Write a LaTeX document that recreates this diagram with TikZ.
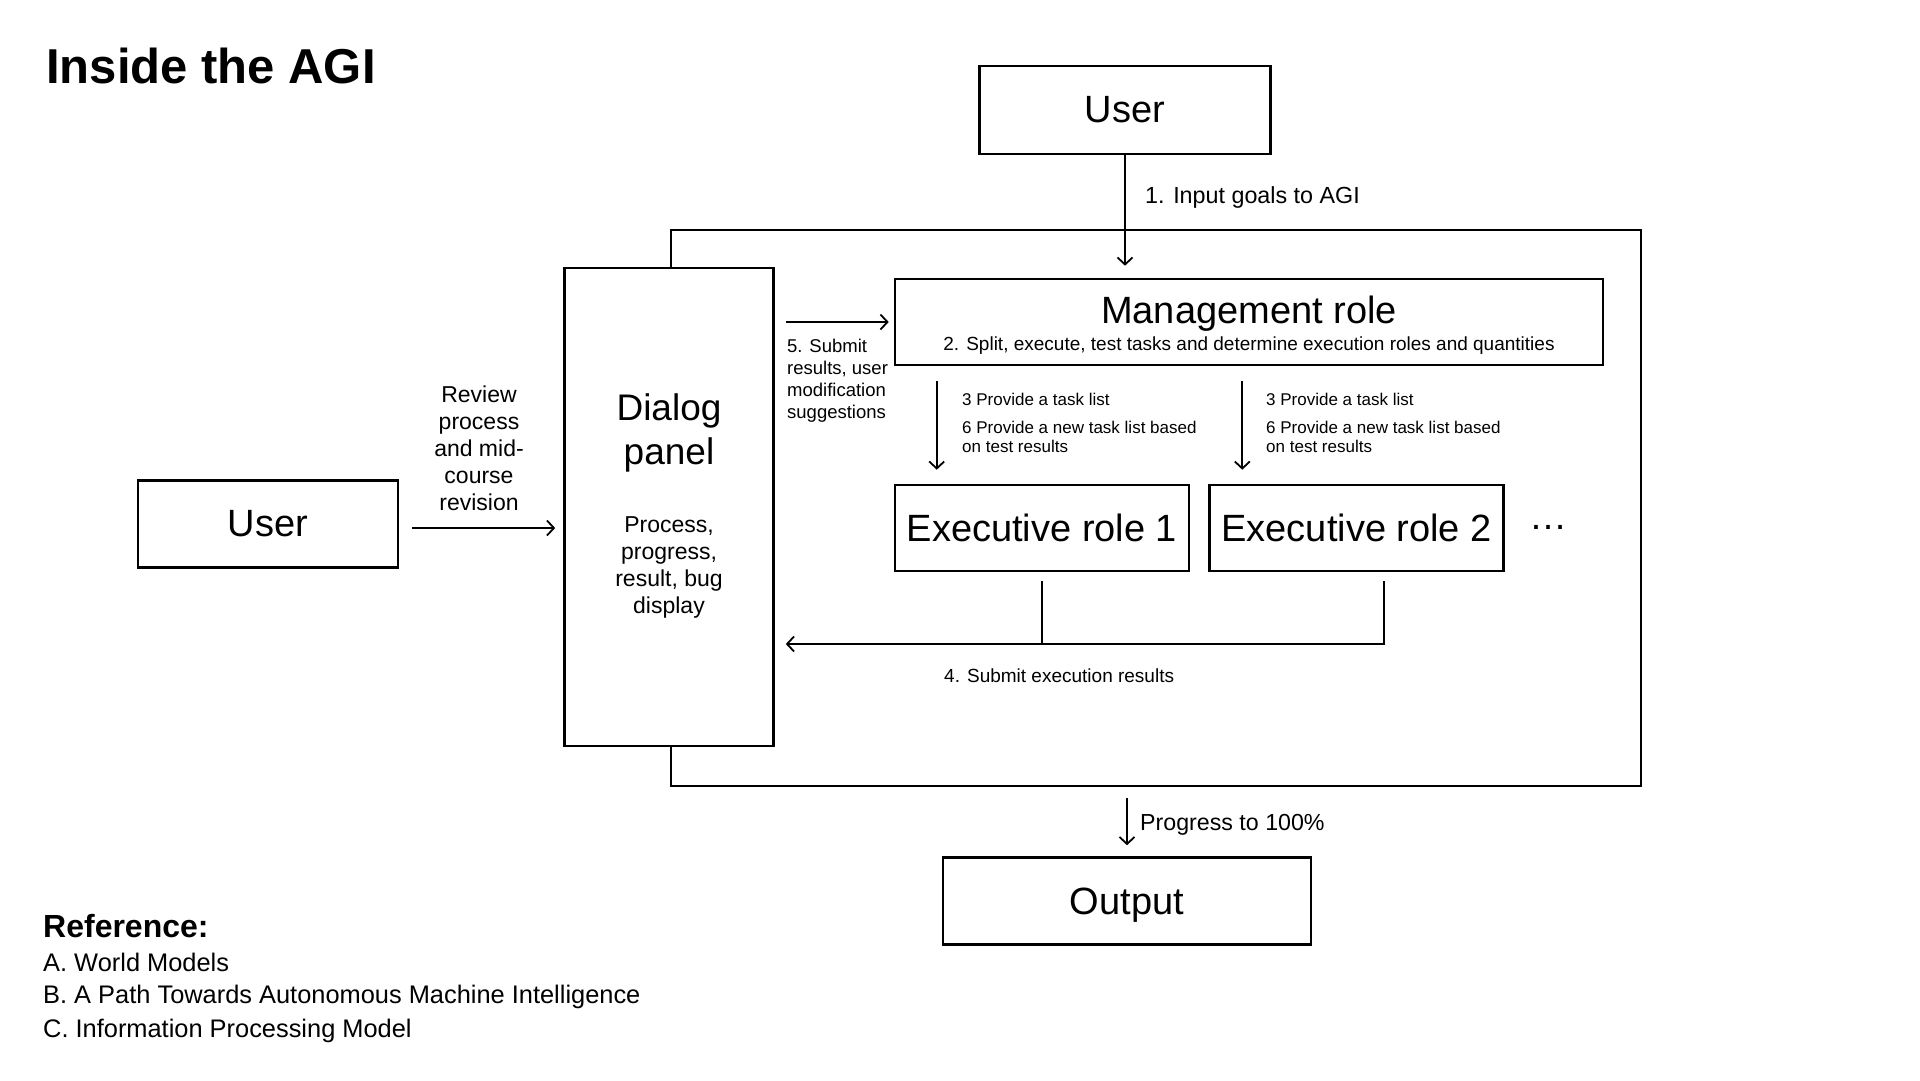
\documentclass[tikz,border=0pt]{standalone}
\usepackage{fontspec}
\setmainfont{Liberation Sans}
\usepackage{tikz}
\usetikzlibrary{positioning,arrows.meta}
\tikzstyle{whitebox} = [rectangle, draw, fill=white, line width=2.6pt, inner sep=0pt]
\tikzstyle{label} = [inner sep=0pt, align=left]
\tikzset{
  myarrow/.style={-{Straight Barb[length=7pt,width=15pt]}, line width=1.8pt},
  myline/.style={line width=1.8pt},
  bigtext/.style={font=\fontsize{38}{44}\selectfont},
  midtext/.style={font=\fontsize{23}{27}\selectfont},
  smalltext/.style={font=\fontsize{17}{18.5}\selectfont},
	}
\begin{document}
\begin{tikzpicture}[x=1pt, y=-1pt, align=center]
    \useasboundingbox (0,0) rectangle (1920,1080);
    % boxes
    \node[whitebox, minimum width=970pt, minimum height=556pt](frame) at (1156,508){};
    \node[whitebox, minimum width=291pt, minimum height=88pt, bigtext](usertop) at (1125,110){User};
    \node[whitebox, minimum width=209pt, minimum height=478pt](dialog) at (669,507){};
    \node[whitebox, minimum width=708pt, minimum height=86pt](mgmt) at (1249,322){};
    \node[whitebox, minimum width=294pt, minimum height=86pt, bigtext](exec1) at (1042,528){Executive role 1};
    \node[whitebox, minimum width=294pt, minimum height=86pt, bigtext, right=18pt of exec1](exec2){Executive role 2};
    \node[bigtext, inner sep=0pt](dots) at (1548,527){…};
    \node[whitebox, minimum width=260pt, minimum height=87pt, bigtext](userleft) at (268,524){User};
    \node[whitebox, minimum width=368pt, minimum height=87pt, bigtext, text height=27pt, text depth=0pt](output) at (1127,901){Output};
    % texts inside
    \node[label, align=center, font=\fontsize{37}{44}\selectfont](dialogtitle) at (669,433){Dialog\\panel};
    \node[label, align=center, midtext](dialogtext) at (669,567){Process,\\progress,\\result, bug\\display};
    \node[label, bigtext](mgmttitle) at (1249,314){Management role};
    \node[label, font=\fontsize{19}{22}\selectfont](mgmttext) at (1249,345.5){2. Split, execute, test tasks and determine execution roles and quantities};
    % connectors
    \draw[myarrow, shorten >=12pt](usertop.south)--(usertop.south |- mgmt.north);
    \node[label, anchor=west, font=\fontsize{23.3}{27}\selectfont](goals) at (1145,197){1. Input goals to AGI};
    \draw[myarrow, shorten <=13pt, shorten >=8pt]([yshift=-4pt]userleft.east)--([yshift=-4pt]userleft.east -| dialog.west);
    \node[label, align=center, midtext](review) at (479,448){Review\\process\\and mid-\\course\\revision};
    \draw[myarrow, shorten <=11pt, shorten >=5pt](mgmt.west -| dialog.east)--(mgmt.west);
    \node[label, anchor=west, font=\fontsize{18.5}{22}\selectfont](submit) at (787,380.5){5. Submit\\results, user\\modification\\suggestions};
    \draw[myarrow, shorten <=15pt, shorten >=14pt]([xshift=43pt]exec1.north west |- mgmt.south)--([xshift=43pt]exec1.north west);
    \draw[myarrow, shorten <=15pt, shorten >=14pt]([xshift=34pt]exec2.north west |- mgmt.south)--([xshift=34pt]exec2.north west);
    \node[label, anchor=west, smalltext](task1) at (962,399){3 Provide a task list};
    \node[label, anchor=west, smalltext](newtask1) at (962,437){6 Provide a new task list based\\on test results};
    \node[label, anchor=west, smalltext](task2) at (1266,399){3 Provide a task list};
    \node[label, anchor=west, smalltext](newtask2) at (1266,437){6 Provide a new task list based\\on test results};
    \coordinate (join1) at (1042,644);
    \coordinate (join2) at ([xshift=27pt]exec2.south |- join1);
    \draw[myline, shorten <=9pt](exec1.south)--(join1);
    \draw[myarrow, shorten <=9pt, shorten >=11pt]([xshift=27pt]exec2.south)--(join2)--(join2 -| dialog.east);
    \node[label, anchor=west, font=\fontsize{19}{22}\selectfont](results) at (944,676){4. Submit execution results};
    \draw[myarrow, shorten <=11pt, shorten >=11pt](output.north |- frame.south)--(output.north);
    \node[label, anchor=west, font=\fontsize{23.2}{27}\selectfont](progress) at (1140,824.5){Progress to 100\%};
    % title and references
    \node[label, anchor=base west, font=\fontsize{49}{58}\bfseries](title) at (46,83.5){Inside the AGI};
    \node[label, anchor=west, font=\fontsize{32}{38}\bfseries](reftitle) at (43,926){Reference:};
    \node[label, anchor=west, font=\fontsize{25.4}{30}\selectfont](refa) at (43,962){A. World Models};
    \node[label, anchor=west, font=\fontsize{25.4}{30}\selectfont](refb) at (43,997){B. A Path Towards Autonomous Machine Intelligence};
    \node[label, anchor=west, font=\fontsize{25.4}{30}\selectfont](refc) at (43,1031){C. Information Processing Model};
\end{tikzpicture}
\end{document}
